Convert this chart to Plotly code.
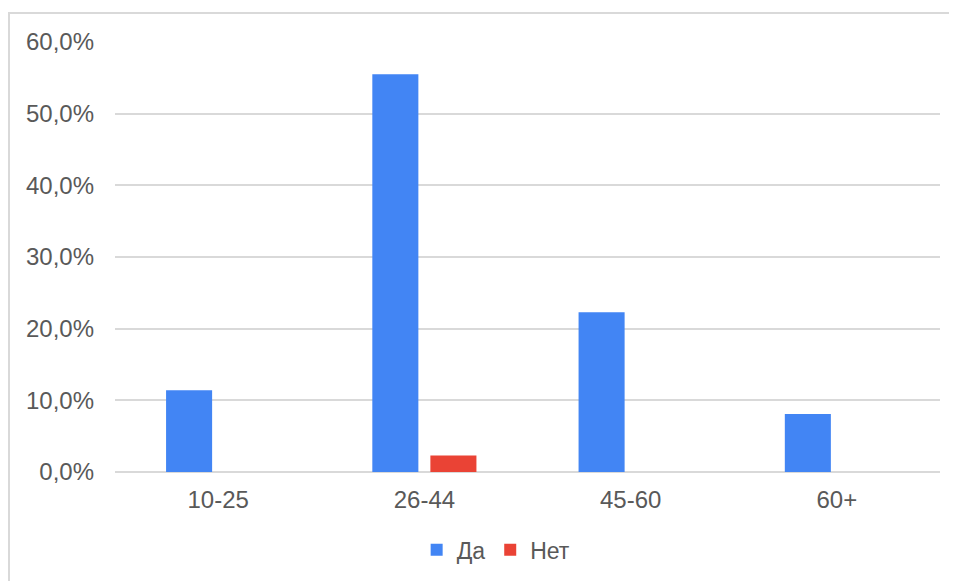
import plotly.graph_objects as go

categories = ["10-25", "26-44", "45-60", "60+"]
da_values = [0.114, 0.555, 0.223, 0.081]
net_values = [0.0, 0.023, 0.0, 0.0]
tick_vals = [0.0, 0.1, 0.2, 0.3, 0.4, 0.5, 0.6]

fig = go.Figure()
fig.add_trace(go.Bar(name="Да", x=categories, y=da_values, marker_color="#4285F4", marker_line_width=0))
fig.add_trace(go.Bar(name="Нет", x=categories, y=net_values, marker_color="#EA4335", marker_line_width=0))

fig.update_layout(
    width=957, height=581,
    margin=dict(l=107, r=25, t=34, b=117),
    paper_bgcolor="white", plot_bgcolor="white",
    separators=", ",
    barmode="group", bargap=0.437, bargroupgap=0.207,
    font=dict(family="Liberation Sans, Arial, sans-serif", size=24, color="#595959"),
    showlegend=True,
    legend=dict(orientation="h", x=0.462, xanchor="center", y=-0.181, yanchor="middle",
                font=dict(size=23, color="#595959"), itemwidth=30),
    xaxis=dict(showgrid=False, showline=False, ticks="", zeroline=False, ticklabelstandoff=11),
    yaxis=dict(range=[0, 0.6], tickvals=tick_vals, tickformat=".1%",
               showgrid=True, gridcolor="#d9d9d9", gridwidth=1.5,
               zeroline=True, zerolinecolor="#d9d9d9", zerolinewidth=1.5,
               showline=False, ticks="", ticklabelstandoff=20),
    shapes=[dict(type="rect", xref="paper", yref="paper",
                 x0=-0.1285, x1=1.2, y0=-0.4, y1=1.0674,
                 line=dict(color="#d9d9d9", width=2), fillcolor="rgba(0,0,0,0)", layer="below")],
)

fig.write_html("out.html")
